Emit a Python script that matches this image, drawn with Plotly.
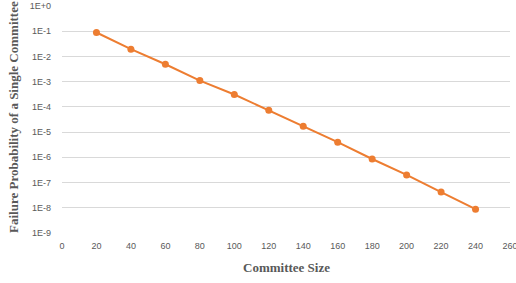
import plotly.graph_objects as go

committee_size = [20, 40, 60, 80, 100, 120, 140, 160, 180, 200, 220, 240]
failure_prob = [8.9e-2, 1.95e-2, 4.9e-3, 1.1e-3, 3.1e-4, 7.4e-5, 1.7e-5, 4.0e-6, 8.6e-7, 2.0e-7, 4.2e-8, 8.8e-9]
y_tick_vals = [1e0, 1e-1, 1e-2, 1e-3, 1e-4, 1e-5, 1e-6, 1e-7, 1e-8, 1e-9]
y_tick_text = ["1E+0", "1E-1", "1E-2", "1E-3", "1E-4", "1E-5", "1E-6", "1E-7", "1E-8", "1E-9"]
x_tick_vals = list(range(0, 261, 20))
x_title = "Committee Size"
y_title = "Failure Probability of a Single Committee"

W, H = 516, 283
L, R, T, B = 62, 6, 6, 50
plot_w, plot_h = W - L - R, H - T - B

fig = go.Figure()
fig.add_trace(go.Scatter(
    x=committee_size, y=failure_prob, mode="lines+markers",
    line=dict(color="#ED7D31", width=2),
    marker=dict(color="#ED7D31", size=7),
    showlegend=False,
))

tick_font = dict(family="Liberation Sans, Arial, sans-serif", size=9, color="#595959")
title_font = dict(family="Liberation Serif, Times New Roman, serif", size=13, color="#595959")

fig.update_layout(
    width=W, height=H,
    margin=dict(l=L, r=R, t=T, b=B),
    paper_bgcolor="white", plot_bgcolor="white",
    xaxis=dict(
        range=[0, 260], tickvals=x_tick_vals, showgrid=False, zeroline=False,
        showline=False, tickfont=tick_font, ticks="", ticklabelstandoff=6,
        ticklabeloverflow="allow", automargin=False,
    ),
    yaxis=dict(
        type="log", range=[-9, 0], tickvals=y_tick_vals, ticktext=y_tick_text,
        showgrid=True, gridcolor="#D9D9D9", gridwidth=1, zeroline=False,
        showline=False, tickfont=tick_font, ticks="", ticklabelstandoff=10,
        automargin=False,
    ),
    annotations=[
        dict(text="<b>" + x_title + "</b>", font=title_font, showarrow=False,
             xref="paper", yref="paper", xanchor="center", yanchor="middle",
             x=(286 - L) / plot_w, y=(H - B - 267.5) / plot_h),
        dict(text="<b>" + y_title + "</b>", font=title_font, showarrow=False,
             textangle=-90, xref="paper", yref="paper", xanchor="center", yanchor="middle",
             x=(13.5 - L) / plot_w, y=(H - B - 117.5) / plot_h),
    ],
)

fig.write_html("out.html", config={"displayModeBar": False},
               post_script="document.body.style.margin='0';document.body.style.padding='0';")
